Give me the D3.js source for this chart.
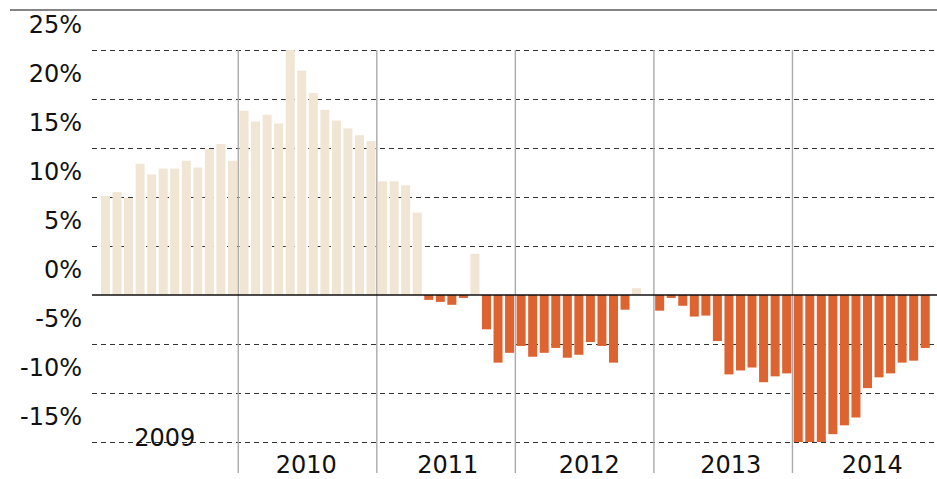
<!DOCTYPE html>
<html lang="en">

<head>
    <meta charset="UTF-8">
    <title>Monthly change</title>
    <script src="https://d3js.org/d3.v7.min.js"></script>
    <style>
        body { margin: 0; background: #fff; }
        text { font-family: "DejaVu Sans", sans-serif; fill: #111; }
    </style>
</head>

<body>
    <svg class="chart" width="937" height="479"></svg>

    <script>
        // data (percent, month by month)
        const years = [2009, 2010, 2011, 2012, 2013, 2014];
        const monthNames = ['01', '02', '03', '04', '05', '06', '07', '08', '09', '10', '11', '12'];
        const values = [
            10.1, 10.5, 9.9, 13.4, 12.3, 12.9, 12.9, 13.7, 13.0, 14.9, 15.4, 13.7,
            18.8, 17.7, 18.4, 17.5, 25.3, 22.9, 20.6, 18.9, 17.8, 17.0, 16.3, 15.7,
            11.6, 11.6, 11.2, 8.4, -0.5, -0.7, -1.0, -0.3, 4.2, -3.5, -6.9, -5.9,
            -5.2, -6.3, -5.9, -5.4, -6.4, -6.1, -4.8, -5.2, -6.9, -1.5, 0.7, 0,
            -1.6, -0.3, -1.1, -2.2, -2.1, -4.7, -8.1, -7.7, -7.4, -8.9, -8.3, -8.0,
            -15.0, -15.0, -15.0, -14.2, -13.3, -12.5, -9.5, -8.4, -8.0, -6.9, -6.7, -5.4
        ];
        const yTicks = [25, 20, 15, 10, 5, 0, -5, -10, -15];

        const months = [];
        years.forEach(y => monthNames.forEach(m => months.push(y + '-' + m)));
        const data = months.map((m, i) => ({ month: m, value: values[i] }));

        const svg = d3.select('.chart');
        const width = +svg.attr('width');
        const height = +svg.attr('height');
        const plotLeft = 92;

        const xScale = d3.scaleBand()
            .domain(months)
            .range([99.7, 931])
            .paddingInner(0.22)
            .paddingOuter(0.11);
        const gap = xScale.step() - xScale.bandwidth();

        // year labels are spread evenly, not on the month grid
        const labelScale = d3.scaleBand()
            .domain(years)
            .range([94, 943]);

        const yScale = d3.scaleLinear()
            .domain([-15, 25])
            .range([442, 50])
            .clamp(true);

        // top rule
        svg.append('line')
            .attr('x1', 10).attr('x2', width)
            .attr('y1', 10).attr('y2', 10)
            .attr('stroke', '#858585')
            .attr('stroke-width', 2);

        // dashed grid
        svg.append('g')
            .selectAll('line')
            .data(yTicks.filter(d => d !== 0))
            .join('line')
            .attr('x1', plotLeft).attr('x2', width)
            .attr('y1', d => Math.round(yScale(d)) + 0.5)
            .attr('y2', d => Math.round(yScale(d)) + 0.5)
            .attr('stroke', '#333')
            .attr('stroke-width', 1)
            .attr('stroke-dasharray', '5,4');

        // y labels sit above their line
        svg.append('g')
            .selectAll('text')
            .data(yTicks)
            .join('text')
            .attr('x', 82)
            .attr('y', d => yScale(d) - 17)
            .attr('text-anchor', 'end')
            .attr('font-size', 24)
            .text(d => d + '%');

        // bars
        svg.append('g')
            .selectAll('rect')
            .data(data)
            .join('rect')
            .attr('x', d => xScale(d.month))
            .attr('width', xScale.bandwidth())
            .attr('y', d => yScale(Math.max(0, d.value)))
            .attr('height', d => Math.abs(yScale(d.value) - yScale(0)))
            .attr('fill', d => d.value >= 0 ? '#F1E5D4' : '#DD6330');

        // year separators
        svg.append('g')
            .selectAll('line')
            .data(years.slice(1))
            .join('line')
            .attr('x1', d => xScale(d + '-01') - gap / 2)
            .attr('x2', d => xScale(d + '-01') - gap / 2)
            .attr('y1', 50).attr('y2', 473)
            .attr('stroke', '#aaa')
            .attr('stroke-width', 1.4);

        // zero line
        svg.append('line')
            .attr('x1', plotLeft).attr('x2', width)
            .attr('y1', yScale(0)).attr('y2', yScale(0))
            .attr('stroke', '#111')
            .attr('stroke-width', 1.5);

        // year labels
        svg.append('g')
            .selectAll('text')
            .data(years)
            .join('text')
            .attr('x', d => labelScale(d) + labelScale.bandwidth() / 2)
            .attr('y', d => d === years[0] ? 446 : 473)
            .attr('text-anchor', 'middle')
            .attr('font-size', 24)
            .text(d => d);
    </script>
</body>

</html>
